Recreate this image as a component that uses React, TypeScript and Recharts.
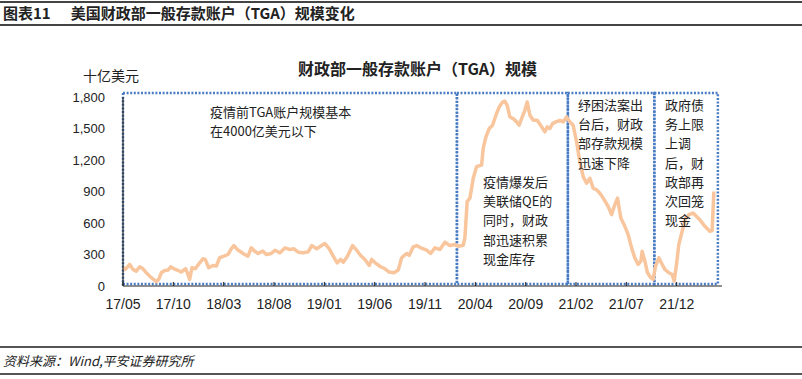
import React from 'react';
import { LineChart, Line, XAxis, YAxis, ReferenceArea } from 'recharts';

// months since 2017/05, TGA balance in $bn
const preCovidMonths = [
  0, 0.23, 0.67, 0.99, 1.32, 1.66, 1.99, 2.31, 2.81, 3.31, 3.55, 3.8, 4.14, 4.47, 4.74,
  5.06, 5.39, 5.79, 6.23, 6.45, 6.62, 6.85, 7.18, 7.62, 7.94, 8.17, 8.51, 8.94, 9.27, 9.6,
  10.03, 10.43, 10.75, 11.02, 11.35, 11.75, 12.09, 12.41, 12.74, 13.08, 13.41, 13.9, 14.23,
  14.73, 15.09, 15.59, 16.09, 16.58, 16.98, 17.41, 17.9, 18.4, 18.74, 19.24, 19.73, 20.06,
  20.49, 20.88, 21.28, 21.62, 21.88, 22.27, 22.81, 23.21, 23.6, 24.03, 24.46, 24.7, 25.12,
  25.59, 26.02, 26.44, 26.91, 27.34, 27.68, 28.17, 28.43, 28.83, 29.17, 29.66, 30.16,
  30.56, 30.98, 31.48, 31.98, 32.47, 32.97, 33.3, 33.79,
];
const preCovidValues = [
  174, 158, 205, 158, 142, 183, 164, 126, 79, 42, 63, 126, 148, 152, 183,
  164, 152, 133, 164, 110, 63, 174, 164, 221, 259, 253, 174, 196, 190, 269,
  284, 300, 354, 385, 348, 322, 300, 284, 363, 332, 310, 332, 300,
  310, 340, 316, 363, 348, 354, 322, 316, 325, 385, 354, 385, 404,
  354, 284, 221, 253, 227, 278, 385, 341, 291, 253, 196, 253, 215,
  183, 164, 133, 126, 152, 269, 310, 291, 373, 385, 360, 341,
  310, 363, 348, 417, 385, 395, 379, 388,
];

const buildUpMonths = [
  33.96, 34.19, 34.46, 34.79, 35.12, 35.62, 35.78, 36.05, 36.38, 36.71, 37.04, 37.37,
  37.71, 37.93, 38.16, 38.43, 38.76, 39.1, 39.35, 39.59, 39.92, 40.15, 40.42, 40.75,
  41.14, 41.48, 41.91, 42.14, 42.4, 42.67, 43.0, 43.4, 43.72, 44.06,
];
const buildUpValues = [
  458, 805, 837, 1026, 1137, 1152, 1310, 1421, 1500, 1531, 1626, 1705,
  1752, 1760, 1720, 1610, 1594, 1563, 1531, 1594, 1673, 1752, 1626, 1578,
  1578, 1531, 1468, 1515, 1500, 1547, 1563, 1578, 1563, 1610,
];

const drawDownMonths = [
  44.39, 44.72, 45.05, 45.38, 45.71, 46.05, 46.38, 46.7, 47.04, 47.37, 47.7, 48.19,
  48.53, 48.79, 49.12, 49.45, 49.78, 50.18, 50.52, 50.84, 51.17, 51.44, 51.57, 51.84,
  52.1, 52.43, 52.66,
];
const drawDownValues = [
  1563, 1531, 1373, 1184, 1042, 979, 1026, 931, 916, 884, 837, 758,
  679, 758, 837, 647, 584, 489, 363, 268, 205, 237, 331, 237,
  126, 79, 63,
];

const rebuildMonths = [
  52.9, 53.23, 53.56, 53.82, 54.22, 54.55, 54.75, 54.98, 55.21, 55.54, 55.88, 56.21,
  56.63, 56.97, 57.3, 57.8, 58.29, 58.52, 58.69,
];
const rebuildValues = [
  189, 268, 205, 158, 126, 110, 47, 205, 395, 521, 647, 679,
  695, 663, 631, 568, 521, 527, 900,
];

const tickMonths = [0, 5, 10, 15, 20, 25, 30, 35, 40, 45, 50, 55];
const tickLabels = ['17/05', '17/10', '18/03', '18/08', '19/01', '19/06', '19/11', '20/04', '20/09', '21/02', '21/07', '21/12'];
const yTicks = [0, 300, 600, 900, 1200, 1500, 1800];

// period boxes (months) and their notes
const periodEdges = [0, 33.17, 44.19, 52.78, 59.09];
const periodNotes = [
  ['疫情前TGA账户规模基本', '在4000亿美元以下'],
  ['疫情爆发后', '美联储QE的', '同时，财政', '部迅速积累', '现金库存'],
  ['纾困法案出', '台后，财政', '部存款规模', '迅速下降'],
  ['政府债', '务上限', '上调', '后，财', '政部再', '次回笼', '现金'],
];

const data = [
  ...preCovidMonths.map((m, i) => ({ m, v: preCovidValues[i] })),
  ...buildUpMonths.map((m, i) => ({ m, v: buildUpValues[i] })),
  ...drawDownMonths.map((m, i) => ({ m, v: drawDownValues[i] })),
  ...rebuildMonths.map((m, i) => ({ m, v: rebuildValues[i] })),
];

const CJK = '"Noto Sans CJK SC", "Noto Sans", sans-serif';
const LATIN = '"Liberation Sans", Arial, sans-serif';

function MonthTick({ x, y, payload }: any) {
  const idx = tickMonths.indexOf(payload.value);
  return (
    <g>
      <line x1={x} x2={x} y1={y} y2={y - 4} stroke="#222" strokeWidth={1} />
      <text x={x} y={y + 23} textAnchor="middle" fontSize={14} fill="#222" fontFamily={LATIN}>
        {tickLabels[idx]}
      </text>
    </g>
  );
}

// where each note block sits inside its box
const notePos = [
  { left: 210, top: 102 },
  { left: 483, top: 172 },
  { left: 578, top: 95 },
  { left: 665, top: 95 },
];

export default function App() {
  return (
    <div style={{ position: 'absolute', left: 0, top: 0, width: 802, height: 379, background: '#fff', fontFamily: CJK, color: '#222' }}>
      {/* header */}
      <div style={{ position: 'absolute', left: 0, top: 1, width: 802, height: 2, background: '#444' }} />
      <div style={{ position: 'absolute', left: 3, top: 4, fontSize: 15, fontWeight: 700, lineHeight: '18px', whiteSpace: 'nowrap' }}>
        <span>图表11</span>
        <span style={{ marginLeft: 20 }}>美国财政部一般存款账户（TGA）规模变化</span>
      </div>
      <div style={{ position: 'absolute', left: 0, top: 24, width: 802, height: 1.5, background: '#444' }} />

      <div style={{ position: 'absolute', left: 83, top: 65, fontSize: 14, lineHeight: '20px' }}>十亿美元</div>
      <div style={{ position: 'absolute', left: 298, top: 58, fontSize: 16, fontWeight: 700, lineHeight: '20px', whiteSpace: 'nowrap' }}>
        财政部一般存款账户（TGA）规模
      </div>

      <LineChart width={802} height={379} data={data} margin={{ top: 97, right: 80, bottom: 63, left: 63 }} style={{ position: 'absolute', left: 0, top: 0 }}>
        <XAxis
          dataKey="m"
          type="number"
          domain={[0, 59.5]}
          ticks={tickMonths}
          allowDataOverflow
          height={30}
          tickSize={0}
          tickMargin={0}
          tickLine={false}
          axisLine={{ stroke: '#222', strokeWidth: 1.2 }}
          tick={<MonthTick />}
        />
        <YAxis
          type="number"
          domain={[0, 1800]}
          ticks={yTicks}
          width={60}
          tickLine={false}
          tickSize={0}
          tickMargin={18}
          axisLine={{ stroke: '#222', strokeWidth: 1.2 }}
          tick={{ fontSize: 13, fill: '#222', fontFamily: LATIN }}
          tickFormatter={(v: number) => v.toLocaleString('en-US')}
        />
        <Line
          type="linear"
          dataKey="v"
          stroke="#F8C59C"
          strokeWidth={3.5}
          dot={false}
          isAnimationActive={false}
          strokeLinejoin="round"
        />
        {periodNotes.map((_, i) => (
          <ReferenceArea
            key={i}
            x1={periodEdges[i]}
            x2={periodEdges[i + 1]}
            y1={20}
            y2={1838}
            ifOverflow="visible"
            fill="none"
            stroke="#4A7CC4"
            strokeWidth={2.5}
            strokeDasharray="2 1.6"
          />
        ))}
      </LineChart>

      {periodNotes.map((lines, i) => (
        <div key={i} style={{ position: 'absolute', left: notePos[i].left, top: notePos[i].top, fontSize: 13, lineHeight: '19.2px', whiteSpace: 'nowrap' }}>
          {lines.map((t) => (
            <div key={t}>{t}</div>
          ))}
        </div>
      ))}

      {/* footer */}
      <div style={{ position: 'absolute', left: 0, top: 346, width: 802, height: 2, background: '#555' }} />
      <div style={{ position: 'absolute', left: 3, top: 351, fontSize: 13, fontStyle: 'italic', lineHeight: '20px', whiteSpace: 'nowrap' }}>
        资料来源：Wind,平安证券研究所
      </div>
      <div style={{ position: 'absolute', left: 0, top: 373, width: 802, height: 2, background: '#555' }} />
    </div>
  );
}
